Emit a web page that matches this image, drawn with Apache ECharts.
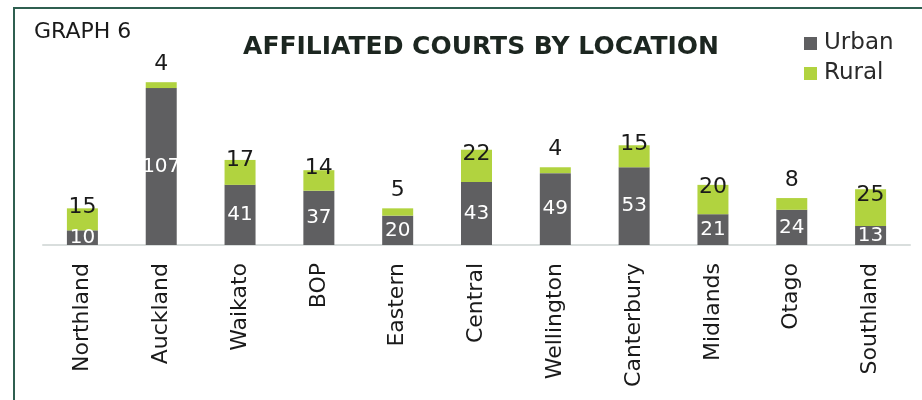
<!DOCTYPE html>
<html>
<head>
<meta charset="utf-8">
<script src="https://cdn.jsdelivr.net/npm/echarts@6/dist/echarts.min.js"></script>
<style>html,body{margin:0;padding:0;background:#fff;}#c{width:922px;height:400px;}</style>
</head>
<body>
<div id="c"></div>
<script>
var categories = ['Northland','Auckland','Waikato','BOP','Eastern','Central','Wellington','Canterbury','Midlands','Otago','Southland'];
var urban = [10,107,41,37,20,43,49,53,21,24,13];
var rural = [15,4,17,14,5,22,4,15,20,8,25];

var FONT = 'DejaVu Sans';
var chart = echarts.init(document.getElementById('c'), null, {renderer:'canvas'});
var ruralData = rural.map(function(v){
  return v < 10
    ? {value:v, label:{position:'top', distance:7}}
    : {value:v, label:{position:'inside', offset:[0,-12]}};
});
chart.setOption({
  animation:false,
  backgroundColor:'#fff',
  graphic:[
    {type:'rect', shape:{x:14, y:8, width:940, height:420}, style:{fill:'none', stroke:'#2f5f50', lineWidth:2}, z:0},
    {type:'text', left:34, top:21, style:{text:'GRAPH 6', font:'22px "'+FONT+'"', fill:'#1a1a1a'}}
  ],
  title:{text:'AFFILIATED COURTS BY LOCATION', left:476, top:30, textAlign:'center',
    textStyle:{fontFamily:FONT, fontWeight:'bold', fontSize:25, color:'#1c2620'}},
  legend:{orient:'vertical', left:799, top:27, itemWidth:13, itemHeight:13, itemGap:7,
    icon:'rect', textStyle:{fontFamily:FONT, fontSize:23, color:'#2a2a2a', padding:[0,0,0,2]}},
  grid:{left:43, right:12, top:69, bottom:155},
  xAxis:{type:'category', data:categories,
    axisLine:{lineStyle:{color:'#d9dedd', width:2}}, axisTick:{show:false},
    axisLabel:{rotate:90, margin:18, fontFamily:FONT, fontSize:22, color:'#1a1a1a', interval:0}},
  yAxis:{type:'value', min:0, max:120, show:false, splitLine:{show:false}},
  series:[
    {name:'Urban', type:'bar', stack:'a', data:urban, barWidth:31, itemStyle:{color:'#5f5f61'},
      label:{show:true, position:'inside', color:'#ffffff', fontFamily:FONT, fontSize:20}},
    {name:'Rural', type:'bar', stack:'a', data:ruralData, barWidth:31, itemStyle:{color:'#b1d33f'},
      label:{show:true, color:'#1a1a1a', fontFamily:FONT, fontSize:22}}
  ]
});
</script>
</body>
</html>
